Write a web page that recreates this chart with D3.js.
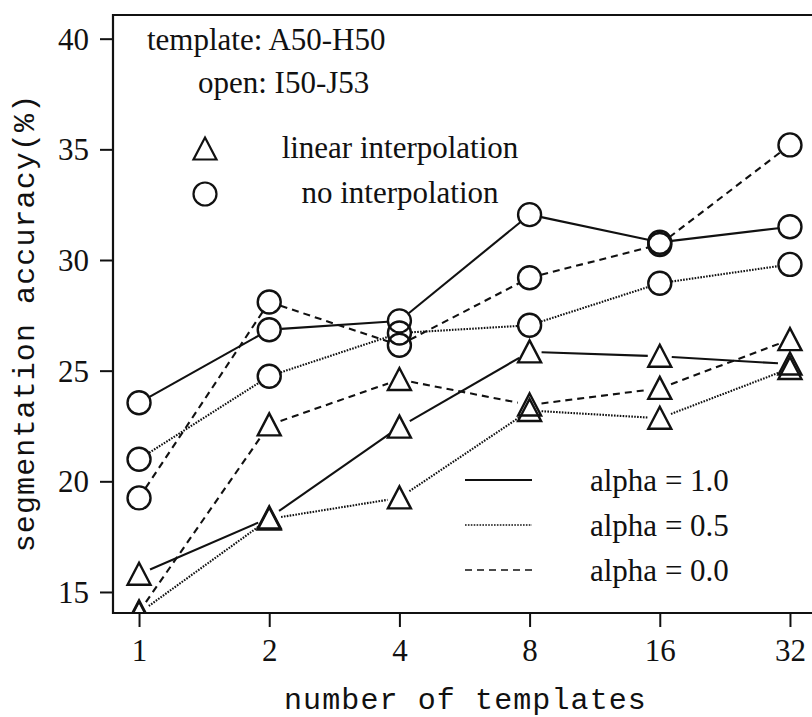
<!DOCTYPE html>
<html>
<head>
<meta charset="utf-8">
<script src="https://cdn.jsdelivr.net/npm/d3@7"></script>
<style>
  body { margin: 0; background: #fff; }
  svg { display: block; }
</style>
</head>
<body>
<svg id="chart"></svg>
<script>
// Segmentation accuracy vs. number of templates
const templates = [1, 2, 4, 8, 16, 32];
const yTicks = [15, 20, 25, 30, 35, 40];

// no interpolation (circles)
const noInterpAlpha10 = [23.55, 26.85, 27.25, 32.05, 30.8, 31.5];
const noInterpAlpha05 = [21.0, 24.75, 26.7, 27.05, 28.95, 29.8];
const noInterpAlpha00 = [19.25, 28.1, 26.15, 29.2, 30.7, 35.2];

// linear interpolation (triangles)
const linearAlpha10 = [15.8, 18.35, 22.45, 25.85, 25.65, 25.3];
const linearAlpha05 = [14.05, 18.3, 19.25, 23.2, 22.85, 25.1];
const linearAlpha00 = [14.1, 22.55, 24.6, 23.45, 24.2, 26.4];

const alphaLabels = ["alpha = 1.0", "alpha = 0.5", "alpha = 0.0"];

const width = 812, height = 717;
const serif = "'Liberation Serif', 'Times New Roman', serif";
const mono = "'Liberation Mono', 'Courier New', monospace";

// line styles per alpha
const styles = [
    { dash: null, width: 2.1 },
    { dash: "1.6,1.3", width: 2.1 },
    { dash: "7,5", width: 2.1 }
];

const series = [
    { values: noInterpAlpha10, marker: "circle", style: 0 },
    { values: noInterpAlpha05, marker: "circle", style: 1 },
    { values: noInterpAlpha00, marker: "circle", style: 2 },
    { values: linearAlpha10, marker: "triangle", style: 0 },
    { values: linearAlpha05, marker: "triangle", style: 1 },
    { values: linearAlpha00, marker: "triangle", style: 2 }
];

const svg = d3.select("#chart")
    .attr("width", width)
    .attr("height", height);

// Scales
const x = d3.scaleLog().base(2)
    .domain([Math.pow(2, -0.2), Math.pow(2, 5.2)])
    .range([113, 816]);

const y = d3.scaleLinear()
    .domain([14.05, 41.07])
    .range([613, 15]);

const plotLeft = x.range()[0], plotRight = x.range()[1];
const plotTop = y.range()[1], plotBottom = y.range()[0];

svg.append("defs").append("clipPath")
    .attr("id", "plot-clip")
    .append("rect")
    .attr("x", plotLeft).attr("y", plotTop)
    .attr("width", plotRight - plotLeft).attr("height", plotBottom - plotTop);

// Frame
svg.append("path")
    .attr("d", `M${plotRight},${plotTop}H${plotLeft}V${plotBottom}H${plotRight}`)
    .attr("fill", "none")
    .attr("stroke", "#111")
    .attr("stroke-width", 2.2);

// Y axis
const yAxis = svg.append("g")
    .attr("transform", `translate(${plotLeft},0)`)
    .call(d3.axisLeft(y).tickValues(yTicks).tickSize(13).tickPadding(11));
yAxis.select(".domain").remove();
yAxis.selectAll(".tick line").attr("stroke", "#111").attr("stroke-width", 2);
yAxis.selectAll(".tick text")
    .attr("font-family", serif)
    .attr("font-size", 31)
    .attr("fill", "#111")
    .attr("dy", "0.34em");

// X axis
const xAxis = svg.append("g")
    .attr("transform", `translate(0,${plotBottom})`)
    .call(d3.axisBottom(x).tickValues(templates).tickFormat(d3.format("d")).tickSize(14).tickPadding(12));
xAxis.select(".domain").remove();
xAxis.selectAll(".tick line").attr("stroke", "#111").attr("stroke-width", 2);
xAxis.selectAll(".tick text")
    .attr("font-family", serif)
    .attr("font-size", 31)
    .attr("fill", "#111");

// Axis titles
svg.append("text")
    .attr("x", (plotLeft + plotRight) / 2 + 1)
    .attr("y", 709)
    .attr("text-anchor", "middle")
    .attr("font-family", mono)
    .attr("font-size", 30)
    .attr("letter-spacing", "1.1px")
    .attr("fill", "#111")
    .text("number of templates");

svg.append("text")
    .attr("transform", "translate(34,323) rotate(-90)")
    .attr("text-anchor", "middle")
    .attr("font-family", mono)
    .attr("font-size", 30)
    .attr("letter-spacing", "1.1px")
    .attr("fill", "#111")
    .text("segmentation accuracy(%)");

// Plot contents
const plot = svg.append("g").attr("clip-path", "url(#plot-clip)");

const triangle = "M0,-11.5L11.5,10.5L-11.5,10.5Z";
const trim = 12;

series.forEach(s => {
    const pts = s.values.map((v, i) => [x(templates[i]), y(v)]);
    const st = styles[s.style];

    // segments trimmed at the hollow markers
    for (let i = 0; i < pts.length - 1; i++) {
        const [x0, y0] = pts[i], [x1, y1] = pts[i + 1];
        const len = Math.hypot(x1 - x0, y1 - y0);
        if (len <= 2 * trim) continue;
        const ux = (x1 - x0) / len, uy = (y1 - y0) / len;
        plot.append("line")
            .attr("x1", x0 + ux * trim).attr("y1", y0 + uy * trim)
            .attr("x2", x1 - ux * trim).attr("y2", y1 - uy * trim)
            .attr("stroke", "#111")
            .attr("stroke-width", st.width)
            .attr("stroke-dasharray", st.dash);
    }

    // markers
    pts.forEach(([px, py]) => {
        if (s.marker === "circle") {
            plot.append("circle")
                .attr("cx", px).attr("cy", py).attr("r", 11.5)
                .attr("fill", "none")
                .attr("stroke", "#111")
                .attr("stroke-width", 2.4);
        } else {
            plot.append("path")
                .attr("d", triangle)
                .attr("transform", `translate(${px},${py})`)
                .attr("fill", "none")
                .attr("stroke", "#111")
                .attr("stroke-width", 2.4)
                .attr("stroke-linejoin", "miter");
        }
    });
});

// Annotations
const note = svg.append("g")
    .attr("font-family", serif)
    .attr("font-size", 31)
    .attr("fill", "#111");

note.append("text").attr("x", 147).attr("y", 50).text("template: A50-H50");
note.append("text").attr("x", 198).attr("y", 93).text("open: I50-J53");

// Marker legend
svg.append("path")
    .attr("d", triangle)
    .attr("transform", "translate(205,149)")
    .attr("fill", "none")
    .attr("stroke", "#111")
    .attr("stroke-width", 2.2);
svg.append("circle")
    .attr("cx", 205).attr("cy", 194).attr("r", 11.5)
    .attr("fill", "none")
    .attr("stroke", "#111")
    .attr("stroke-width", 2.2);

note.append("text").attr("x", 400).attr("y", 158)
    .attr("text-anchor", "middle").text("linear interpolation");
note.append("text").attr("x", 400).attr("y", 203)
    .attr("text-anchor", "middle").text("no interpolation");

// Line style legend
const legendY = d3.scalePoint()
    .domain(alphaLabels)
    .range([480, 570]);

alphaLabels.forEach((label, i) => {
    svg.append("line")
        .attr("x1", 465).attr("x2", 532)
        .attr("y1", legendY(label)).attr("y2", legendY(label))
        .attr("stroke", "#111")
        .attr("stroke-width", i === 0 ? 2 : 1.6)
        .attr("stroke-dasharray", styles[i].dash);
    note.append("text")
        .attr("x", 590)
        .attr("y", legendY(label) + 11)
        .text(label);
});
</script>
</body>
</html>
